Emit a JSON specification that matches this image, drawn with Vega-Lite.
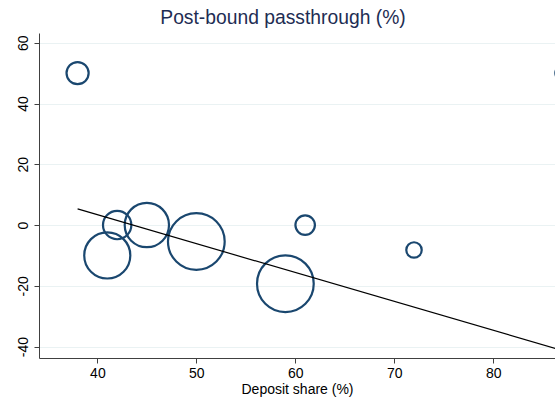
{
  "$schema": "https://vega.github.io/schema/vega-lite/v6.json",
  "width": 516,
  "height": 325,
  "autosize": {"type": "none"},
  "padding": {"left": 39, "top": 33, "right": 0, "bottom": 40},
  "background": "white",
  "title": {
    "text": "Post-bound passthrough (%)",
    "font": "Liberation Sans",
    "fontSize": 19.3,
    "fontWeight": "normal",
    "color": "#1e2d53",
    "anchor": "middle",
    "dx": -14,
    "offset": 5
  },
  "config": {
    "view": {"stroke": null},
    "axis": {
      "labelFont": "Liberation Sans",
      "titleFont": "Liberation Sans",
      "labelFontSize": 14,
      "titleFontSize": 14,
      "titleFontWeight": "normal",
      "labelColor": "#000000",
      "titleColor": "#000000",
      "domainColor": "#404040",
      "tickColor": "#404040",
      "tickSize": 5,
      "gridColor": "#eaf2f3",
      "gridWidth": 1
    }
  },
  "datasets": {
    "pts": [
      {"share": 38, "pass": 50, "w": 1.56},
      {"share": 42, "pass": 0, "w": 2.56},
      {"share": 41, "pass": -10, "w": 6.76},
      {"share": 45, "pass": 0, "w": 6.25},
      {"share": 50, "pass": -5.4, "w": 10.24},
      {"share": 61, "pass": 0, "w": 1.21},
      {"share": 59, "pass": -19.3, "w": 10.24},
      {"share": 72, "pass": -8.2, "w": 0.76},
      {"share": 87, "pass": 50, "w": 0.64}
    ],
    "fit": [
      {"share": 38, "pass": 5.3},
      {"share": 87, "pass": -41.3}
    ]
  },
  "layer": [
    {
      "data": {"name": "pts"},
      "mark": {"type": "point", "shape": "circle", "filled": false, "stroke": "#1a476f", "strokeWidth": 2.2, "clip": true, "opacity": 1},
      "encoding": {
        "x": {
          "field": "share", "type": "quantitative",
          "scale": {"domain": [34.1, 86.25], "nice": false, "zero": false},
          "axis": {"values": [40, 50, 60, 70, 80], "title": "Deposit share (%)", "grid": false, "labelPadding": 3, "titlePadding": 2}
        },
        "y": {
          "field": "pass", "type": "quantitative",
          "scale": {"domain": [-43.75, 63.2], "nice": false, "zero": false},
          "axis": {"values": [-40, -20, 0, 20, 40, 60], "title": null, "grid": true, "labelAngle": 270, "labelAlign": "center", "labelBaseline": "bottom", "labelPadding": 4, "labelExpr": "'' + datum.value"}
        },
        "size": {
          "field": "w", "type": "quantitative",
          "scale": {"domain": [0, 10.24], "range": [0, 3217]},
          "legend": null
        }
      }
    },
    {
      "data": {"name": "fit"},
      "mark": {"type": "line", "color": "#000000", "strokeWidth": 1.2, "clip": true},
      "encoding": {
        "x": {"field": "share", "type": "quantitative"},
        "y": {"field": "pass", "type": "quantitative"}
      }
    }
  ]
}
